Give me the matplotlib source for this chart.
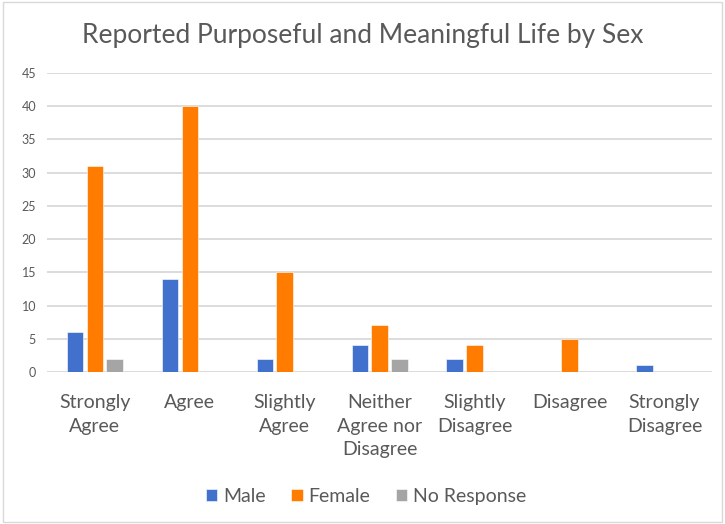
import matplotlib
matplotlib.use("Agg")
import matplotlib.pyplot as plt
import numpy as np
from matplotlib.patches import Rectangle

categories = ["Strongly\nAgree", "Agree", "Slightly\nAgree", "Neither\nAgree nor\nDisagree",
              "Slightly\nDisagree", "Disagree", "Strongly\nDisagree"]
male = [6, 14, 2, 4, 2, 0, 1]
female = [31, 40, 15, 7, 4, 5, 0]
no_response = [2, 0, 0, 2, 0, 0, 0]
series_names = ["Male", "Female", "No Response"]
colors = ["#4170CD", "#FF7C00", "#A5A5A5"]
yticks = list(range(0, 50, 5))

plt.rcParams['font.family'] = ['Lato', 'DejaVu Sans']

fig = plt.figure(figsize=(7.25, 5.24), dpi=100)
fig.patches.append(Rectangle((0.004, 0.004), 0.992, 0.992, transform=fig.transFigure,
                             fill=False, edgecolor="#D9D9D9", linewidth=1))
ax = fig.add_axes([0.065, 0.29, 0.917, 0.571])

x = np.arange(len(categories))
w = 0.17
gap = 0.04
for i, (vals, name, c) in enumerate(zip([male, female, no_response], series_names, colors)):
    ax.bar(x + (i - 1) * (w + gap), vals, width=w, color=c, label=name,
           edgecolor="white", linewidth=0.4, zorder=3)

ax.set_xlim(-0.5, len(categories) - 0.5)
ax.set_ylim(0, 45)
ax.set_yticks(yticks)
ax.yaxis.grid(True, color="#D9D9D9", linewidth=1.3, zorder=0)
ax.set_axisbelow(True)
for s in ax.spines.values():
    s.set_visible(False)
ax.tick_params(axis="y", length=0, labelsize=9, labelcolor="#595959", pad=8)
ax.tick_params(axis="x", length=0, labelsize=14, labelcolor="#595959", pad=16)
ax.set_xticks(x)
ax.set_xticklabels(categories, linespacing=1.45)

fig.text(0.5, 0.933, "Reported Purposeful and Meaningful Life by Sex", ha="center", va="center",
         fontsize=19, color="#595959")

fig.legend(loc="center", bbox_to_anchor=(0.505, 0.053), ncol=3, frameon=False,
           fontsize=14, handlelength=0.6, handleheight=0.6, handletextpad=0.3,
           columnspacing=1.3, labelcolor="#595959")

fig.savefig("out.png", dpi=100)
